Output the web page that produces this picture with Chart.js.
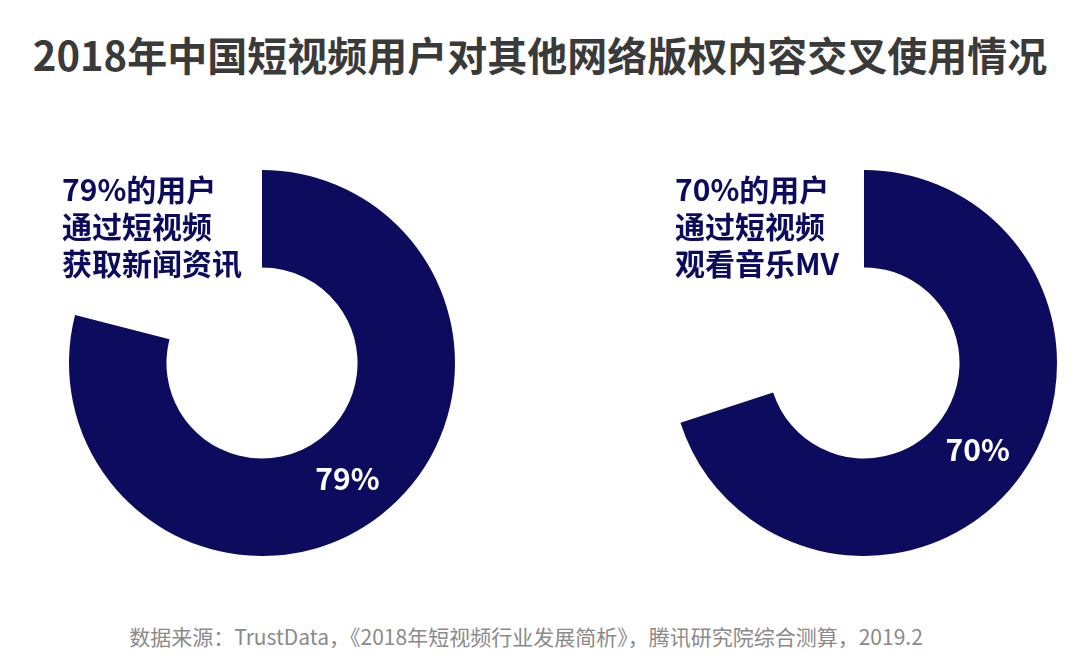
<!DOCTYPE html>
<html>
<head>
<meta charset="utf-8">
<script src="https://cdn.jsdelivr.net/npm/chart.js@4/dist/chart.umd.min.js"></script>
<style>
    html, body { margin: 0; padding: 0; background: #fff; }
    #page { position: relative; width: 1080px; height: 669px; overflow: hidden; font-family: "Noto Sans CJK SC", "Noto Sans", sans-serif; }
    #title { position: absolute; left: 0; width: 1080px; top: 26px; text-align: center; font-size: 40px; font-weight: bold; color: #3a3a3a; line-height: 56px; }
    .chartBox { position: absolute; top: 170px; width: 386px; height: 386px; }
    .note { position: absolute; top: 170px; font-size: 30px; font-weight: bold; color: #0c0b5e; line-height: 37px; z-index: 2; }
    #source { position: absolute; left: -14px; width: 1080px; top: 622px; text-align: center; font-size: 21px; color: #8a8a8a; line-height: 28px; }
</style>
</head>
<body>
<div id="page">
    <div id="title">2018年中国短视频用户对其他网络版权内容交叉使用情况</div>
    <div class="note" style="left:62px;">79%的用户<br>通过短视频<br>获取新闻资讯</div>
    <div class="note" style="left:675px;">70%的用户<br>通过短视频<br>观看音乐MV</div>
    <div class="chartBox" style="left:69px;"><canvas id="chartNews" width="386" height="386"></canvas></div>
    <div class="chartBox" style="left:671px;"><canvas id="chartMusic" width="386" height="386"></canvas></div>
    <div id="source">数据来源：TrustData，《2018年短视频行业发展简析》，腾讯研究院综合测算，2019.2</div>
</div>
<script>
const categories = ['使用', '未使用'];
const newsValues = [79, 21];
const musicValues = [70, 30];
const valueLabels = ['79%', '70%'];

const navy = '#0c0b5e';

// draws the percentage in the middle of the filled arc
const arcLabel = {
    id: 'arcLabel',
    afterDatasetsDraw(chart, args, opts) {
        const arc = chart.getDatasetMeta(0).data[0];
        const pos = arc.tooltipPosition();
        const ctx = chart.ctx;
        ctx.save();
        ctx.fillStyle = '#fff';
        ctx.font = 'bold 30px "Noto Sans CJK SC", "Noto Sans", sans-serif';
        ctx.textAlign = 'center';
        ctx.textBaseline = 'middle';
        ctx.fillText(opts.text, pos.x - 3, pos.y + 2);
        ctx.restore();
    }
};

function makeDonut(id, values, label) {
    const ctx = document.getElementById(id).getContext('2d');
    return new Chart(ctx, {
        type: 'doughnut',
        data: {
            labels: categories,
            datasets: [{
                data: values,
                backgroundColor: [navy, 'rgba(0,0,0,0)'],
                borderWidth: 0
            }]
        },
        options: {
            responsive: false,
            animation: false,
            cutout: '49.5%',
            layout: { padding: 0 },
            plugins: {
                legend: { display: false },
                tooltip: { enabled: false },
                arcLabel: { text: label }
            }
        },
        plugins: [arcLabel]
    });
}

makeDonut('chartNews', newsValues, valueLabels[0]);
makeDonut('chartMusic', musicValues, valueLabels[1]);
</script>
</body>
</html>
